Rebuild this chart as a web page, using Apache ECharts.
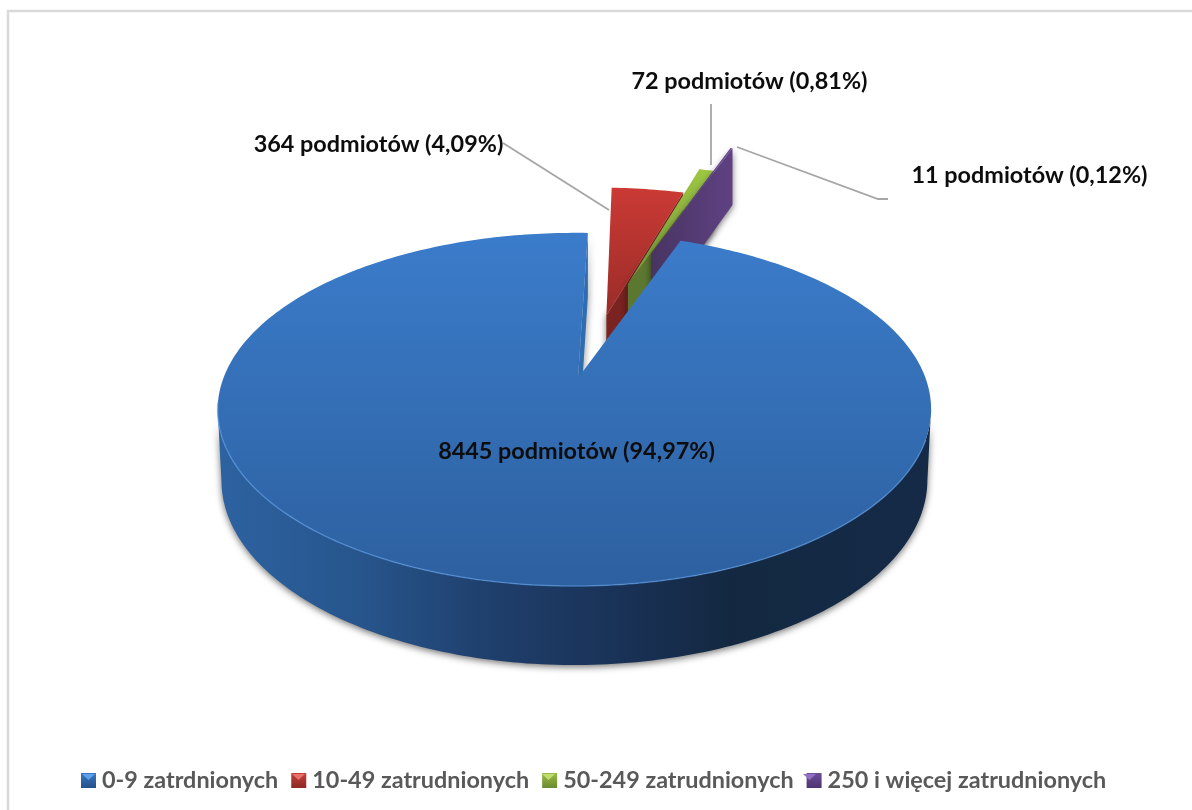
<!DOCTYPE html>
<html>
<head>
<meta charset="utf-8">
<title>Podmioty wg liczby zatrudnionych</title>
<style>
  html, body { margin: 0; padding: 0; background: #fff; }
  #main { width: 1192px; height: 810px; }
</style>
<script src="https://cdn.jsdelivr.net/npm/echarts@6/dist/echarts.min.js"></script>
</head>
<body>
<div id="main"></div>
<script>
// dane
const categories = ['0-9 zatrdnionych', '10-49 zatrudnionych', '50-249 zatrudnionych', '250 i więcej zatrudnionych']
const values = [8445, 364, 72, 11]
const unit = 'podmiotów'

// wysunięcie wycinków (1 = promień koła) i jego kierunek w stopniach
const explode = [0, 0.4, 0.63, 0.87]
const explodeDir = [0, 12.5, 14.5, 16]

const FONT = 'Lato, "Open Sans", sans-serif'
const total = values.reduce((a, b) => a + b, 0)
const startAngle = 20

// rzut perspektywiczny: X, Y w płaszczyźnie koła, z = 0 góra, 1 dół
const view = { cx: 578, cy: 378, a: 351, b: 171, k: 0.178, m: 0.01 }
function project(X, Y, z) {
  const d = 1 - view.k * Y + view.m * X
  const shrink = 1 - 0.009 * z * Math.max(0, 1 + Y)
  return [
    view.cx + (X * view.a / d) * shrink,
    view.cy + Y * view.b / d + (71 + 8 * Y) * z
  ]
}

const rad = deg => deg * Math.PI / 180

function sliceAngles(i) {
  let from = startAngle
  for (let j = 0; j < i; j++) from += values[j] / total * 360
  return [from, from + values[i] / total * 360]
}

function rimPoint(i, deg, z) {
  const dir = rad(explodeDir[i])
  const ox = explode[i] * Math.sin(dir)
  const oy = -explode[i] * Math.cos(dir)
  return project(ox + Math.sin(rad(deg)), oy - Math.cos(rad(deg)), z)
}

function apexPoint(i, z) {
  const dir = rad(explodeDir[i])
  return project(explode[i] * Math.sin(dir), -explode[i] * Math.cos(dir), z)
}

function arc(i, from, to, z) {
  const pts = []
  const steps = Math.max(2, Math.ceil(Math.abs(to - from)))
  for (let s = 0; s <= steps; s++) pts.push(rimPoint(i, from + (to - from) * s / steps, z))
  return pts
}

const grad = (x2, y2, stops) => new echarts.graphic.LinearGradient(0, 0, x2, y2, stops.map(c => ({ offset: c[0], color: c[1] })))

const topFill = [
  grad(0, 1, [[0, '#3B7CCB'], [1, '#2D609F']]),
  grad(0, 1, [[0, '#CB3A35'], [1, '#9A2C28']]),
  grad(0, 1, [[0, '#9DC742'], [1, '#73953A']]),
  grad(0, 1, [[0, '#6A4A92'], [1, '#5A3F80']])
]
const faceFill = [
  '#2F6DB3',
  '#7A2320',
  '#5C7830',
  grad(1, 0, [[0, '#483461'], [1, '#5F4183']])
]
const wallFill = grad(1, 0, [
  [0, '#2D62A1'], [0.2, '#27558C'], [0.38, '#1F3F6C'], [0.6, '#182F52'], [0.72, '#132840'], [1, '#152A47']
])
const shadow = { shadowBlur: 7, shadowColor: 'rgba(0,0,0,0.55)', shadowOffsetY: 2 }

function renderSlice(i) {
  const [from, to] = sliceAngles(i)
  const children = []
  if (i === 0) {
    // zewnętrzna ściana między skrajnymi punktami elipsy
    const wall = arc(i, 100, 260, 0).concat(arc(i, 260, 100, 1))
    children.push({ type: 'polygon', shape: { points: wall }, style: Object.assign({ fill: wallFill }, shadow) })
  }
  // przecięta ściana od strony końca wycinka
  const face = [apexPoint(i, 0), rimPoint(i, to, 0), rimPoint(i, to, 1), apexPoint(i, 1)]
  children.push({
    type: 'polygon',
    shape: { points: face },
    style: Object.assign({ fill: faceFill[i] }, shadow)
  })
  const top = [apexPoint(i, 0)].concat(arc(i, from, to, 0))
  children.push({ type: 'polygon', shape: { points: top }, style: { fill: topFill[i] } })
  if (i === 0) {
    children.push({
      type: 'polyline',
      shape: { points: arc(i, 110, 262, 0) },
      style: { fill: null, stroke: 'rgba(90,155,230,0.6)', lineWidth: 1.5 }
    })
  }
  return { type: 'group', children }
}

const percent = i => (values[i] / total * 100).toFixed(2).replace('.', ',')
const labelPos = [[576.5, 451], [378.5, 144], [749.5, 81], [1029.5, 175]]
const leaders = [
  null,
  [[503, 143], [609, 210]],
  [[711, 104], [711, 165]],
  [[737, 147], [878, 199], [888, 199]]
]

function renderLabels() {
  const children = []
  values.forEach((v, i) => {
    if (leaders[i]) {
      children.push({
        type: 'polyline',
        shape: { points: leaders[i] },
        style: { fill: null, stroke: '#A6A6A6', lineWidth: 1.8 }
      })
    }
    children.push({
      type: 'text',
      x: labelPos[i][0],
      y: labelPos[i][1],
      style: {
        text: v + ' ' + unit + ' (' + percent(i) + '%)',
        fill: '#0D0D0D',
        font: 'bold 23.4px ' + FONT,
        align: 'center',
        verticalAlign: 'middle'
      }
    })
  })
  return { type: 'group', children }
}

const legendColors = [
  grad(0, 1, [[0, '#3A78C4'], [1, '#24508A']]),
  grad(0, 1, [[0, '#C0413C'], [1, '#8E2825']]),
  grad(0, 1, [[0, '#97BC45'], [1, '#6C8A30']]),
  grad(0, 1, [[0, '#6E4C9A'], [1, '#4E3570']])
]
const bevelColors = ['#5FA0E8', '#E8706A', '#BEDD6E', '#9070C4']
const legendIconX = [81, 291, 541, 802]

// kolejność rysowania: tylne wycinki najpierw, duży wycinek na końcu
const drawOrder = [1, 2, 3, 0]

const series = drawOrder.map(i => ({
  type: 'custom',
  name: categories[i],
  coordinateSystem: 'none',
  silent: true,
  animation: false,
  clip: false,
  itemStyle: { color: legendColors[i] },
  data: [values[i]],
  renderItem: () => renderSlice(i)
}))
series.push({
  type: 'custom',
  name: 'etykiety',
  coordinateSystem: 'none',
  silent: true,
  animation: false,
  data: [total],
  renderItem: renderLabels
})

const chart = echarts.init(document.getElementById('main'), null, { renderer: 'canvas' })
chart.setOption({
  backgroundColor: '#fff',
  animation: false,
  legend: {
    data: categories,
    left: 81,
    top: 769,
    padding: 0,
    itemWidth: 15,
    itemHeight: 15,
    itemGap: 13,
    icon: 'rect',
    selectedMode: false,
    textStyle: { color: '#595959', fontSize: 23.4, fontWeight: 'bold', fontFamily: FONT, padding: [0, 0, 0, 1] }
  },
  graphic: [{
    type: 'polyline',
    silent: true,
    shape: { points: [[8, 810], [8, 11], [1192, 11]] },
    style: { fill: null, stroke: '#D9D9D9', lineWidth: 2.5 }
  }].concat(legendIconX.map((x, i) => ({
    type: 'polygon',
    silent: true,
    z: 10,
    shape: { points: [[x + 1, 774], [x + 14, 774], [x + 7.5, 780]] },
    style: { fill: bevelColors[i] }
  }))),
  series
})
</script>
</body>
</html>
